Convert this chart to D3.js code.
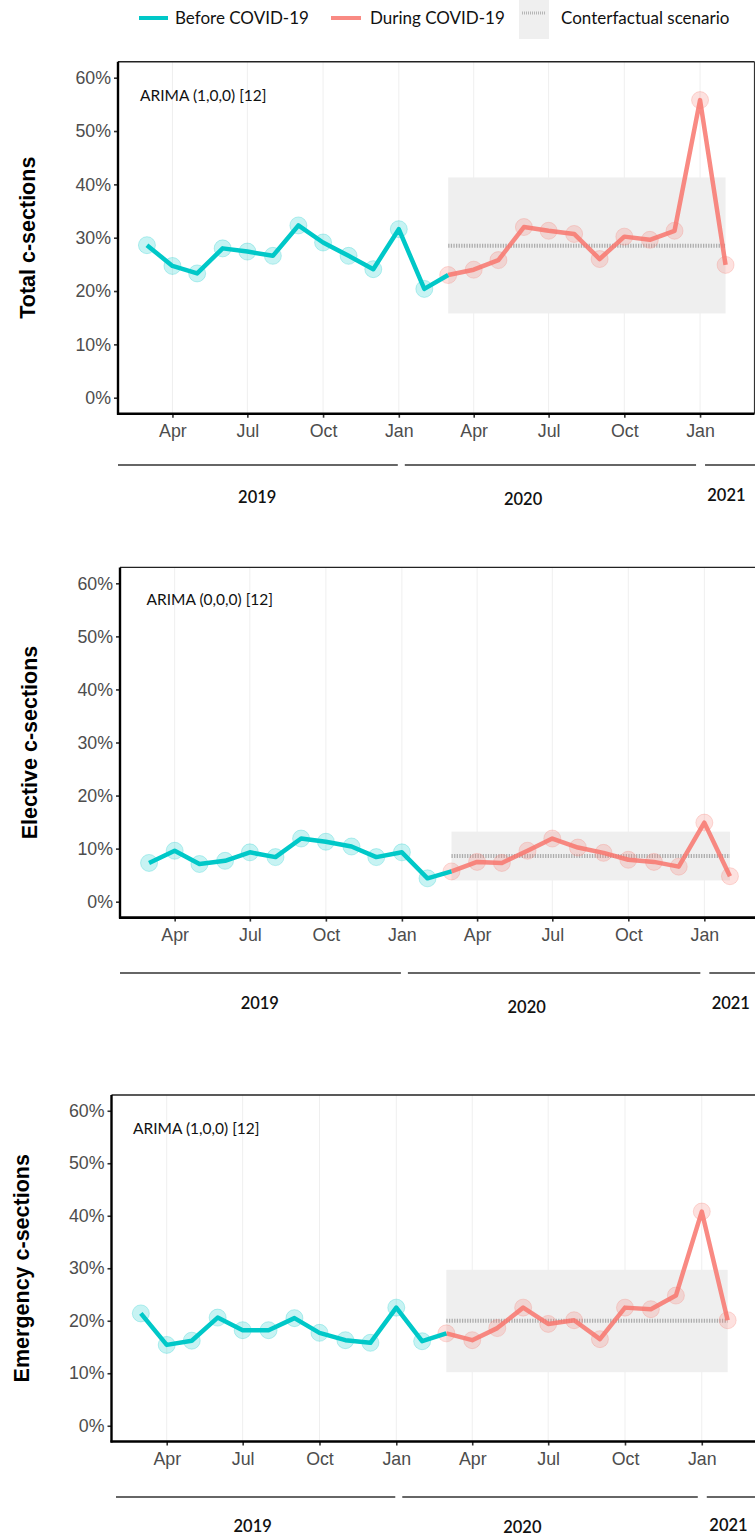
<!DOCTYPE html>
<html><head><meta charset="utf-8">
<script src="https://cdn.jsdelivr.net/npm/d3@7"></script>
<style>body{margin:0;background:#fff} svg{display:block}</style>
</head><body><svg id="c" width="755" height="1538"></svg>
<script>
// ---------- data ----------
const months = ["2019-03","2019-04","2019-05","2019-06","2019-07","2019-08","2019-09","2019-10","2019-11","2019-12",
  "2020-01","2020-02","2020-03","2020-04","2020-05","2020-06","2020-07","2020-08","2020-09","2020-10","2020-11","2020-12",
  "2021-01","2021-02"];
const covidStartIndex = 12; // March 2020
const totalValues = [28.6,24.7,23.3,28.0,27.4,26.6,32.3,29.1,26.6,24.1,31.6,20.4,
  23.0,24.0,25.8,32.0,31.3,30.7,26.0,30.2,29.6,31.3,55.8,24.9];
const electiveValues = [7.3,9.6,7.1,7.7,9.3,8.4,11.9,11.3,10.4,8.4,9.3,4.4,
  5.7,7.5,7.3,9.6,11.9,10.2,9.2,7.9,7.5,6.6,14.9,4.8];
const emergencyValues = [21.4,15.4,16.2,20.6,18.2,18.2,20.5,17.7,16.3,15.8,22.5,16.1,
  17.6,16.3,18.6,22.5,19.4,20.1,16.5,22.5,22.2,24.8,40.8,20.1];
const counterfactualMean = [28.5, 8.6, 20.0];
const counterfactualLower = [15.8, 4.0, 10.2];
const counterfactualUpper = [41.3, 13.2, 29.7];
const panelTitles = ["Total c-sections","Elective c-sections","Emergency c-sections"];
const modelLabels = ["ARIMA (1,0,0) [12]","ARIMA (0,0,0) [12]","ARIMA (1,0,0) [12]"];
const yTicks = [0,10,20,30,40,50,60];
const xTickMonths = ["2019-04","2019-07","2019-10","2020-01","2020-04","2020-07","2020-10","2021-01"];
const years = ["2019","2020","2021"];
const yearLabelDates = ["2019-07-13","2020-05-31","2021-02-02"];
const legendLabels = ["Before COVID-19","During COVID-19","Conterfactual scenario"];

const seriesList = [totalValues, electiveValues, emergencyValues];

// ---------- layout ----------
const panels = [
  {left:118, right:754.5, top:61.7, bottom:413.7, titleX:27.5, arimaX:140, arimaY:96, yearLineY:465, yearLineStart:118, yearLabelY:[497,499,495]},
  {left:120, right:759, top:567.4, bottom:917.6, titleX:29, arimaX:146.5, arimaY:600, yearLineY:973, yearLineStart:120, yearLabelY:[1003,1007,1003]},
  {left:111.5, right:757, top:1095, bottom:1441.5, titleX:21.5, arimaX:133, arimaY:1129, yearLineY:1497, yearLineStart:116, yearLabelY:[1526,1527,1525]}
];

const TEAL = "#00C8C8", PINK = "#F8766D";
const parseM = d3.timeParse("%Y-%m");
const parseD = d3.timeParse("%Y-%m-%d");
const dates = months.map(parseM);
const svg = d3.select("#c");

// ---------- legend ----------
const lg = svg.append("g");
lg.append("line").attr("x1",139).attr("x2",168).attr("y1",18).attr("y2",18).attr("stroke",TEAL).attr("stroke-width",4);
lg.append("text").attr("x",175).attr("y",18).attr("dy","0.35em").text(legendLabels[0]);
lg.append("line").attr("x1",331).attr("x2",361).attr("y1",18).attr("y2",18).attr("stroke",PINK).attr("stroke-opacity",0.85).attr("stroke-width",4);
lg.append("text").attr("x",370).attr("y",18).attr("dy","0.35em").text(legendLabels[1]);
lg.append("rect").attr("x",519).attr("y",0).attr("width",30).attr("height",39).attr("fill","#efefef");
lg.append("line").attr("x1",522).attr("x2",546).attr("y1",13).attr("y2",13).attr("stroke","#b5b5b5").attr("stroke-width",3).attr("stroke-dasharray","1,1");
lg.append("text").attr("x",561).attr("y",18).attr("dy","0.35em").text(legendLabels[2]);
lg.selectAll("text").attr("font-family","Lato, 'Open Sans', sans-serif").attr("font-size",17).attr("fill","#111");

// ---------- panels ----------
panels.forEach((p, i) => {
  const vals = seriesList[i];
  const data = dates.map((d, k) => ({date:d, v:vals[k]}));
  const w = p.right - p.left;
  const pad = w * 0.05 / 1.1;
  const x = d3.scaleTime().domain([dates[0], dates[dates.length-1]]).range([p.left + pad, p.right - pad]);
  const y = d3.scaleLinear().domain([-3, 63]).range([p.bottom, p.top]);
  const g = svg.append("g");

  const clipId = "clip" + i;
  svg.append("clipPath").attr("id", clipId).append("rect")
    .attr("x", p.left).attr("y", p.top).attr("width", w).attr("height", p.bottom - p.top);
  const plot = g.append("g").attr("clip-path", `url(#${clipId})`);

  // vertical grid
  plot.selectAll(".grid").data(xTickMonths.map(parseM)).join("line")
    .attr("x1", d => x(d)).attr("x2", d => x(d)).attr("y1", p.top).attr("y2", p.bottom)
    .attr("stroke", "#efefef").attr("stroke-width", 1);

  // counterfactual band
  const cf = dates.slice(covidStartIndex);
  plot.append("rect")
    .attr("x", x(cf[0])).attr("width", x(cf[cf.length-1]) - x(cf[0]))
    .attr("y", y(counterfactualUpper[i])).attr("height", y(counterfactualLower[i]) - y(counterfactualUpper[i]))
    .attr("fill", "#efefef");
  plot.append("line")
    .attr("x1", x(cf[0])).attr("x2", x(cf[cf.length-1]))
    .attr("y1", y(counterfactualMean[i])).attr("y2", y(counterfactualMean[i]))
    .attr("stroke", "#adadad").attr("stroke-width", 4).attr("stroke-dasharray", "1.3,1.3");

  // circles
  plot.selectAll(".pt").data(data).join("circle")
    .attr("cx", d => x(d.date)).attr("cy", d => y(d.v)).attr("r", 8.5)
    .attr("fill", (d, k) => k < covidStartIndex ? "rgba(0,200,200,0.22)" : "rgba(248,118,109,0.22)")
    .attr("stroke", (d, k) => k < covidStartIndex ? "rgba(0,200,200,0.25)" : "rgba(248,118,109,0.25)")
    .attr("stroke-width", 1);

  const line = d3.line().x(d => x(d.date)).y(d => y(d.v));
  plot.append("path").datum(data.slice(covidStartIndex))
    .attr("d", line).attr("fill", "none").attr("stroke", PINK).attr("stroke-opacity", 0.85)
    .attr("stroke-width", 4.5).attr("stroke-linejoin", "round");
  plot.append("path").datum(data.slice(0, covidStartIndex + 1))
    .attr("d", line).attr("fill", "none").attr("stroke", TEAL)
    .attr("stroke-width", 4.5).attr("stroke-linejoin", "round");

  // border (top/right)
  g.append("line").attr("x1", p.left).attr("x2", p.right).attr("y1", p.top).attr("y2", p.top)
    .attr("stroke", "#222").attr("stroke-width", 1.4);
  g.append("line").attr("x1", p.right).attr("x2", p.right).attr("y1", p.top).attr("y2", p.bottom)
    .attr("stroke", "#333").attr("stroke-width", 1.2);

  // y axis
  const ya = g.append("g").attr("transform", `translate(${p.left},0)`)
    .call(d3.axisLeft(y).tickValues(yTicks).tickFormat(d => d + "%").tickSize(4).tickPadding(3));
  ya.select(".domain").remove();
  ya.selectAll(".tick line").attr("stroke", "#333").attr("stroke-width", 1.6);
  ya.selectAll("text").attr("font-family", "'Liberation Sans', Arial, sans-serif").attr("font-size", 17.8).attr("fill", "#4d4d4d");
  g.append("line").attr("x1", p.left).attr("x2", p.left).attr("y1", p.top).attr("y2", p.bottom + 1)
    .attr("stroke", "#000").attr("stroke-width", 2.4);

  // x axis
  const xa = g.append("g").attr("transform", `translate(0,${p.bottom})`)
    .call(d3.axisBottom(x).tickValues(xTickMonths.map(parseM)).tickFormat(d3.timeFormat("%b")).tickSize(4).tickPadding(7));
  xa.select(".domain").remove();
  xa.selectAll(".tick line").attr("stroke", "#333").attr("stroke-width", 1.6);
  xa.selectAll("text").attr("font-family", "'Liberation Sans', Arial, sans-serif").attr("font-size", 17.8).attr("fill", "#4d4d4d");
  g.append("line").attr("x1", p.left - 1).attr("x2", p.right).attr("y1", p.bottom).attr("y2", p.bottom)
    .attr("stroke", "#000").attr("stroke-width", 2.6);

  // y title
  g.append("text").attr("transform", `translate(${p.titleX},${(p.top + p.bottom) / 2}) rotate(-90)`)
    .attr("text-anchor", "middle").attr("dy", "0.35em")
    .attr("font-family", "'Liberation Sans', Arial, sans-serif").attr("font-weight", "bold").attr("font-size", 21.5)
    .attr("fill", "#000").text(panelTitles[i]);

  // model label
  g.append("text").attr("x", p.arimaX).attr("y", p.arimaY).attr("dy", "0.35em")
    .attr("font-family", "Lato, 'Open Sans', sans-serif").attr("font-size", 15.5).attr("fill", "#111")
    .text(modelLabels[i]);

  // year bracket lines
  const j20 = x(parseM("2020-01")), j21 = x(parseM("2021-01"));
  const segs = [[p.yearLineStart, j20 - 1], [j20 + 6, j21 - 4], [j21 + 5, 755]];
  g.selectAll(".yl").data(segs).join("line")
    .attr("x1", d => d[0]).attr("x2", d => d[1]).attr("y1", p.yearLineY).attr("y2", p.yearLineY)
    .attr("stroke", "#333").attr("stroke-width", 1.4);
  g.selectAll(".yt").data(years).join("text")
    .attr("x", (d, k) => x(parseD(yearLabelDates[k]))).attr("y", (d, k) => p.yearLabelY[k])
    .attr("dy", "0.35em").attr("text-anchor", "middle")
    .attr("font-family", "Lato, 'Open Sans', sans-serif").attr("font-size", 16.5).attr("font-weight", 600).attr("fill", "#111")
    .text(d => d);
});
</script></body></html>
